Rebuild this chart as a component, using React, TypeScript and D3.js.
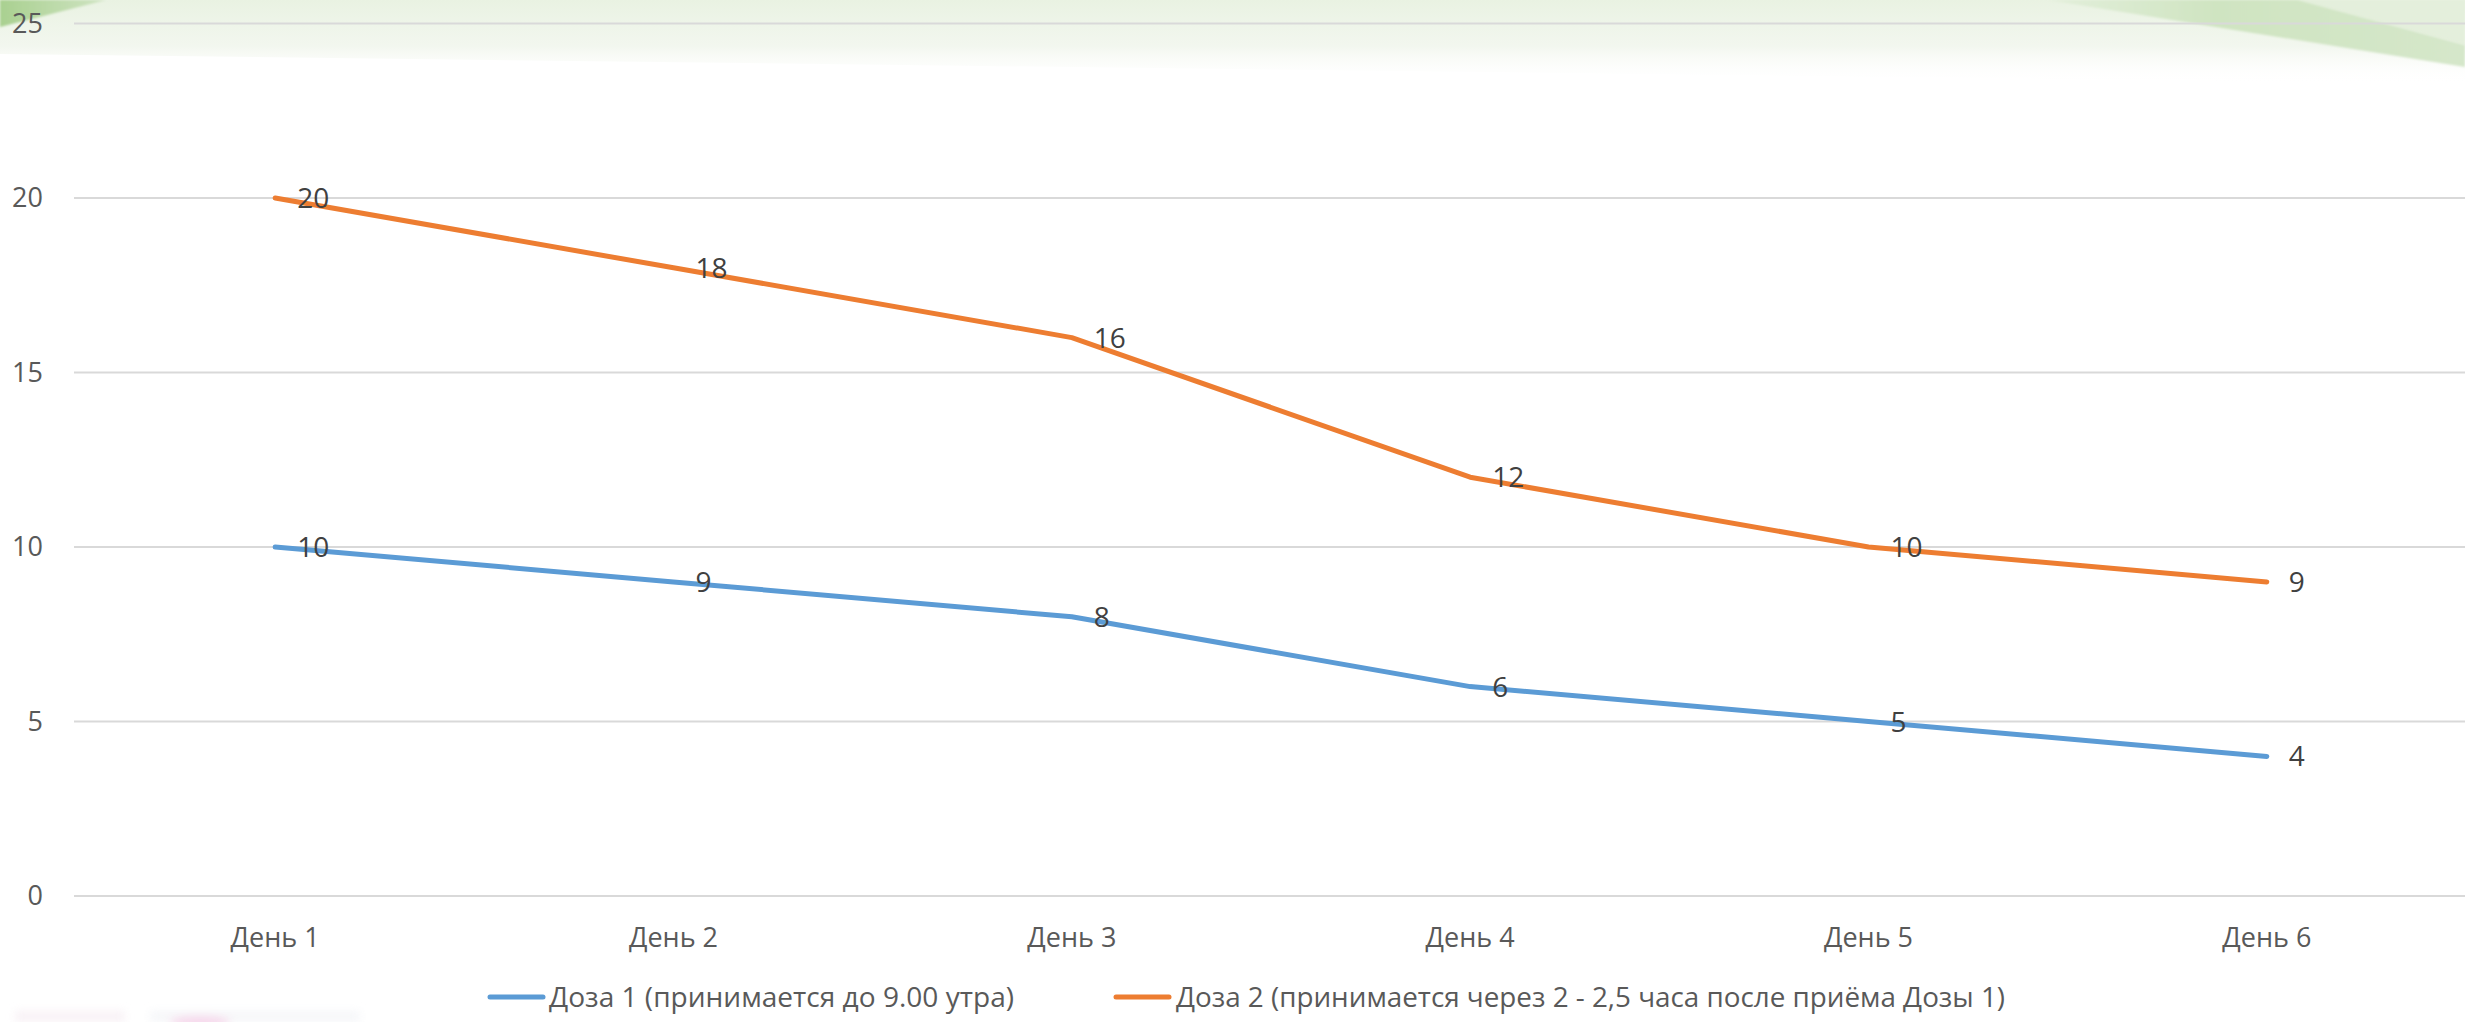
import React from "react";
import * as d3 from "d3";

// Chart data
const days = ["День 1", "День 2", "День 3", "День 4", "День 5", "День 6"];
const dose1 = [10, 9, 8, 6, 5, 4];
const dose2 = [20, 18, 16, 12, 10, 9];
const yTicks = [0, 5, 10, 15, 20, 25];
const seriesNames = [
  "Доза 1 (принимается до 9.00 утра)",
  "Доза 2 (принимается через 2 - 2,5 часа после приёма Дозы 1)",
];

const W = 2465;
const H = 1022;
const FONT = "'Open Sans', 'Noto Sans', sans-serif";
const BLUE = "#5B9BD5";
const ORANGE = "#ED7D31";

export default function App() {
  const x = d3.scalePoint<string>().domain(days).range([76, 2466]).padding(0.5);
  const y = d3.scaleLinear().domain([0, 25]).range([896, 23.5]);

  const line = d3
    .line<number>()
    .x((_, i) => x(days[i]) as number)
    .y((d) => y(d));

  const series = [
    { name: seriesNames[0], values: dose1, color: BLUE },
    { name: seriesNames[1], values: dose2, color: ORANGE },
  ];

  const legend = [
    { lx: 490, tx: 549, tw: 465, color: BLUE, name: seriesNames[0] },
    { lx: 1116, tx: 1176, tw: 829, color: ORANGE, name: seriesNames[1] },
  ];

  return (
    <div style={{ position: "absolute", left: 0, top: 0 }}>
      <svg width={W} height={H} style={{ display: "block", background: "#fff" }}>
        <defs>
          <linearGradient id="topHaze" x1="0" y1="0" x2="0" y2="1">
            <stop offset="0" stopColor="#e9f2e2" stopOpacity="1" />
            <stop offset="0.55" stopColor="#f1f6ed" stopOpacity="0.9" />
            <stop offset="1" stopColor="#ffffff" stopOpacity="0" />
          </linearGradient>
          <linearGradient id="leftLeaf" x1="0" y1="0" x2="1" y2="0">
            <stop offset="0" stopColor="#a9d090" />
            <stop offset="1" stopColor="#cfe4c2" />
          </linearGradient>
          <linearGradient id="rightLeaf" x1="0" y1="0" x2="1" y2="0">
            <stop offset="0" stopColor="#e3efdb" />
            <stop offset="0.4" stopColor="#cfe4c1" />
            <stop offset="1" stopColor="#d5e7ca" />
          </linearGradient>
          <filter id="soft" x="-20%" y="-20%" width="140%" height="140%">
            <feGaussianBlur stdDeviation="1.2" />
          </filter>
          <filter id="blurBig" x="-50%" y="-50%" width="200%" height="200%">
            <feGaussianBlur stdDeviation="4" />
          </filter>
        </defs>

        {/* decorative header background */}
        <path d={`M0,0 L${W},0 L${W},84 L0,54 Z`} fill="url(#topHaze)" />
        <path d="M0,0 L106,0 L0,27 Z" fill="url(#leftLeaf)" filter="url(#soft)" />
        <path d={`M2298,0 L${W},0 L${W},45 Z`} fill="#e4efdc" filter="url(#soft)" />
        <path d={`M2048,0 L2298,0 L${W},45 L${W},67 Z`} fill="url(#rightLeaf)" filter="url(#soft)" />

        {/* faint decoration at the bottom-left */}
        <g filter="url(#blurBig)" opacity="0.55">
          <rect x="15" y="1011" width="110" height="11" fill="#f3e6ee" />
          <rect x="150" y="1011" width="210" height="11" fill="#eef0f4" />
          <ellipse cx="200" cy="1022" rx="30" ry="6" fill="#f0b6dc" />
        </g>

        {/* horizontal gridlines */}
        {yTicks.map((t) => (
          <line
            key={`g${t}`}
            x1={74}
            x2={W}
            y1={y(t)}
            y2={y(t)}
            stroke="#d9d9d9"
            strokeWidth={2}
          />
        ))}

        {/* y-axis tick labels */}
        {yTicks.map((t) => (
          <text
            key={`t${t}`}
            x={43}
            y={y(t)}
            dy="0.35em"
            textAnchor="end"
            fontFamily={FONT}
            fontSize={27}
            fill="#595959"
          >
            {t}
          </text>
        ))}

        {/* category labels */}
        {days.map((d) => (
          <text
            key={d}
            x={x(d) as number}
            y={947}
            textAnchor="middle"
            fontFamily={FONT}
            fontSize={27}
            fill="#595959"
          >
            {d}
          </text>
        ))}

        {/* series lines */}
        {series.map((s) => (
          <path
            key={s.name}
            d={line(s.values) as string}
            fill="none"
            stroke={s.color}
            strokeWidth={5}
            strokeLinecap="round"
            strokeLinejoin="round"
          />
        ))}

        {/* data labels */}
        {series.map((s) =>
          s.values.map((v, i) => (
            <text
              key={`${s.name}-${i}`}
              x={(x(days[i]) as number) + 22}
              y={y(v)}
              dy="0.36em"
              fontFamily={FONT}
              fontSize={28}
              fill="#404040"
            >
              {v}
            </text>
          ))
        )}

        {/* legend */}
        {legend.map((l) => (
          <g key={l.name}>
            <line
              x1={l.lx}
              x2={l.lx + 53}
              y1={997}
              y2={997}
              stroke={l.color}
              strokeWidth={5}
              strokeLinecap="round"
            />
            <text
              x={l.tx}
              y={997}
              dy="0.36em"
              fontFamily={FONT}
              fontSize={27}
              fill="#595959"
              textLength={l.tw}
              lengthAdjust="spacingAndGlyphs"
            >
              {l.name}
            </text>
          </g>
        ))}
      </svg>
    </div>
  );
}
